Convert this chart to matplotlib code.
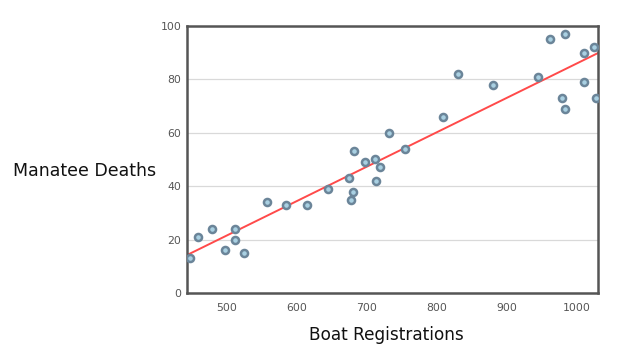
import numpy as np
import matplotlib.pyplot as plt

# ── Data ──────────────────────────────────────────────────────────────────
boat_registrations = [447, 459, 479, 497, 512, 511, 525, 558, 584, 614,
                      645, 675, 680, 678, 681, 697, 711, 719, 713, 731,
                      754, 809, 831, 880, 944, 962, 983, 979, 983, 1011,
                      1011, 1025, 1028]
manatee_deaths = [13, 21, 24, 16, 24, 20, 15, 34, 33, 33,
                  39, 43, 38, 35, 53, 49, 50, 47, 42, 60,
                  54, 66, 82, 78, 81, 95, 97, 73, 69, 90,
                  79, 92, 73]

X_TICKS = [500, 600, 700, 800, 900, 1000]
Y_TICKS = [0, 20, 40, 60, 80, 100]

# ── Plot ──────────────────────────────────────────────────────────────────
plt.rcParams['font.family'] = ['DejaVu Sans']

fig = plt.figure(figsize=(6.28, 3.56), dpi=100)
ax = fig.add_axes([0.2978, 0.177, 0.654, 0.750])

xs = np.array(boat_registrations, dtype=float)
ys = np.array(manatee_deaths, dtype=float)
slope, intercept = np.polyfit(xs, ys, 1)
xlim = (443, 1030)
line_x = np.array(xlim, dtype=float)
ax.plot(line_x, slope * line_x + intercept, color="#ff4a4a", linewidth=1.4, zorder=2)

ax.scatter(xs, ys, s=26, facecolor="#a9d0e2", edgecolor="#6b8599",
           linewidth=1.8, zorder=3)

ax.set_xlim(*xlim)
ax.set_ylim(0, 100)
ax.set_xticks(X_TICKS)
ax.set_yticks(Y_TICKS)
ax.tick_params(length=0, labelsize=7.8, labelcolor="#555555")
ax.tick_params(axis="x", pad=7)
ax.tick_params(axis="y", pad=4)
ax.yaxis.grid(True, color="#d9d9d9", linewidth=0.9, zorder=0)
ax.set_axisbelow(True)
for sp in ax.spines.values():
    sp.set_color("#555555")
    sp.set_linewidth(1.8)

fig.text(13 / 628, 1 - 171 / 356, "Manatee Deaths", fontsize=12.5,
         ha="left", va="center", color="#111111")
fig.text(386 / 628, 1 - 335 / 356, "Boat Registrations", fontsize=12.2,
         ha="center", va="center", color="#111111")

fig.savefig("out.png", dpi=100)
